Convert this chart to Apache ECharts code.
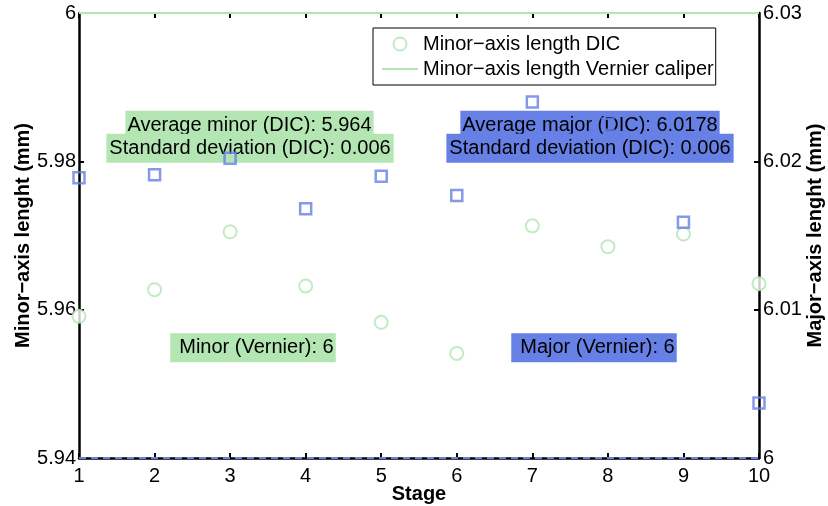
<!DOCTYPE html>
<html>
<head>
<meta charset="utf-8">
<script src="https://cdn.jsdelivr.net/npm/echarts@6/dist/echarts.min.js"></script>
<style>html,body{margin:0;padding:0;background:#fff;}#c{width:828px;height:506px;}</style>
</head>
<body>
<div id="c"></div>
<script>
const stages = [1, 2, 3, 4, 5, 6, 7, 8, 9, 10];
const minorDIC = [5.9591, 5.9627, 5.9705, 5.9632, 5.9583, 5.9541, 5.9713, 5.9685, 5.9702, 5.9635];
const majorDIC = [6.0189, 6.0191, 6.0202, 6.0168, 6.0190, 6.0177, 6.0240, 6.0225, 6.0159, 6.0037];
const minorVernier = 6;
const majorVernier = 6;
const leftTicks = [5.94, 5.96, 5.98, 6];
const rightTicks = [6, 6.01, 6.02, 6.03];
const seriesNames = ['Minor\u2212axis length DIC', 'Minor\u2212axis length Vernier caliper', 'Major\u2212axis length DIC', 'Major\u2212axis length Vernier caliper'];
const notes = {
  minorAvg: 'Average minor (DIC): 5.964',
  minorStd: 'Standard deviation (DIC): 0.006',
  majorAvg: 'Average major (DIC): 6.0178',
  majorStd: 'Standard deviation (DIC): 0.006',
  minorVer: 'Minor (Vernier): 6',
  majorVer: 'Major (Vernier): 6'
};

const GREEN = '#b3e6b3';
const BLUE = '#6680e6';
const FONT = '"Liberation Sans", Arial, sans-serif';
const FS = 20;

const chart = echarts.init(document.getElementById('c'), null, {renderer: 'canvas'});

function box(text, x, y, bg, pad) {
  return {
    type: 'text', x: x, y: y, z: 1,
    style: {
      text: text, fill: '#000', font: FS + 'px ' + FONT,
      align: 'center', verticalAlign: 'middle',
      backgroundColor: bg, padding: pad
    }
  };
}

const axisCommon = {
  nameMoveOverlap: false,
  axisLine: {show: true, onZero: false, lineStyle: {color: '#000', width: 2.5}},
  axisTick: {show: true, inside: true, length: 5, lineStyle: {color: '#000', width: 2}},
  splitLine: {show: false}
};

chart.setOption({
  animation: false,
  backgroundColor: '#fff',
  textStyle: {fontFamily: FONT},
  grid: {left: 79, right: 69, top: 13, bottom: 48, containLabel: false, outerBoundsMode: 'none'},
  legend: {
    left: 373, top: 28, orient: 'vertical',
    data: [
      {name: seriesNames[0]},
      {name: seriesNames[1], itemStyle: {color: 'transparent', borderColor: 'transparent'}}
    ],
    itemWidth: 36, itemHeight: 13, itemGap: 5,
    padding: [6, 2, 6, 8],
    borderColor: '#000', borderWidth: 1, backgroundColor: '#fff',
    textStyle: {fontSize: FS, color: '#000', fontFamily: FONT},
    z: 50
  },
  xAxis: [
    Object.assign({}, axisCommon, {
      type: 'value', min: 1, max: 10, interval: 1, position: 'bottom',
      name: 'Stage', nameLocation: 'middle', nameGap: 26,
      nameTextStyle: {fontSize: FS, fontWeight: 'bold', color: '#000', fontFamily: FONT},
      axisLabel: {fontSize: FS, color: '#000', margin: 8, fontFamily: FONT}
    }),
    Object.assign({}, axisCommon, {
      type: 'value', min: 1, max: 10, interval: 1, position: 'top',
      axisLine: {show: true, onZero: false, lineStyle: {color: '#000', width: 1}},
      axisLabel: {show: false}
    })
  ],
  yAxis: [
    Object.assign({}, axisCommon, {
      type: 'value', min: leftTicks[0], max: leftTicks[leftTicks.length - 1], interval: 0.02, position: 'left',
      name: 'Minor\u2212axis lenght (mm)', nameLocation: 'middle', nameGap: 46, nameRotate: 90,
      nameTextStyle: {fontSize: FS, fontWeight: 'bold', color: '#000', fontFamily: FONT},
      axisLabel: {fontSize: FS, color: '#000', margin: 3, fontFamily: FONT,
        formatter: v => String(+v.toFixed(2))}
    }),
    Object.assign({}, axisCommon, {
      type: 'value', min: rightTicks[0], max: rightTicks[rightTicks.length - 1], interval: 0.01, position: 'right',
      name: 'Major\u2212axis lenght (mm)', nameLocation: 'middle', nameGap: 46, nameRotate: 90,
      nameTextStyle: {fontSize: FS, fontWeight: 'bold', color: '#000', fontFamily: FONT},
      axisLabel: {fontSize: FS, color: '#000', margin: 4, fontFamily: FONT,
        formatter: v => String(+v.toFixed(2))}
    })
  ],
  series: [
    {
      name: seriesNames[0], type: 'scatter', xAxisIndex: 0, yAxisIndex: 0,
      symbol: 'emptyCircle', symbolSize: 13, clip: false,
      itemStyle: {color: GREEN, borderColor: GREEN, borderWidth: 2},
      data: stages.map((s, i) => [s, minorDIC[i]]), z: 5
    },
    {
      name: seriesNames[1], type: 'line', xAxisIndex: 0, yAxisIndex: 0,
      symbol: 'none', showSymbol: false, clip: false,
      lineStyle: {color: GREEN, width: 2}, itemStyle: {color: GREEN},
      data: [[stages[0], minorVernier], [stages[stages.length - 1], minorVernier]], z: 4
    },
    {
      name: seriesNames[2], type: 'scatter', xAxisIndex: 0, yAxisIndex: 1,
      symbol: 'rect', symbolSize: 11, clip: false,
      itemStyle: {color: 'transparent', borderColor: BLUE, borderWidth: 2.5},
      data: stages.map((s, i) => [s, majorDIC[i]]), z: 5
    },
    {
      name: seriesNames[3], type: 'line', xAxisIndex: 0, yAxisIndex: 1,
      symbol: 'none', showSymbol: false, clip: false, zlevel: 1,
      lineStyle: {color: BLUE, width: 2, type: [7, 5]}, itemStyle: {color: BLUE},
      data: [[stages[0], majorVernier], [stages[stages.length - 1], majorVernier]], z: 4
    }
  ],
  graphic: [
    box(notes.minorAvg, 249.5, 125.2, GREEN, [5, 2, 4, 2]),
    box(notes.minorStd, 250, 148.2, GREEN, [5, 3, 4, 3]),
    box(notes.majorAvg, 590, 125.2, BLUE, [5, 2, 4, 2]),
    box(notes.majorStd, 590, 148.2, BLUE, [5, 3, 4, 3]),
    box(notes.minorVer, 253, 347.8, GREEN, [5, 2, 4, 9]),
    box(notes.majorVer, 594, 347.8, BLUE, [5, 2, 4, 9])
  ]
});
</script>
</body>
</html>
